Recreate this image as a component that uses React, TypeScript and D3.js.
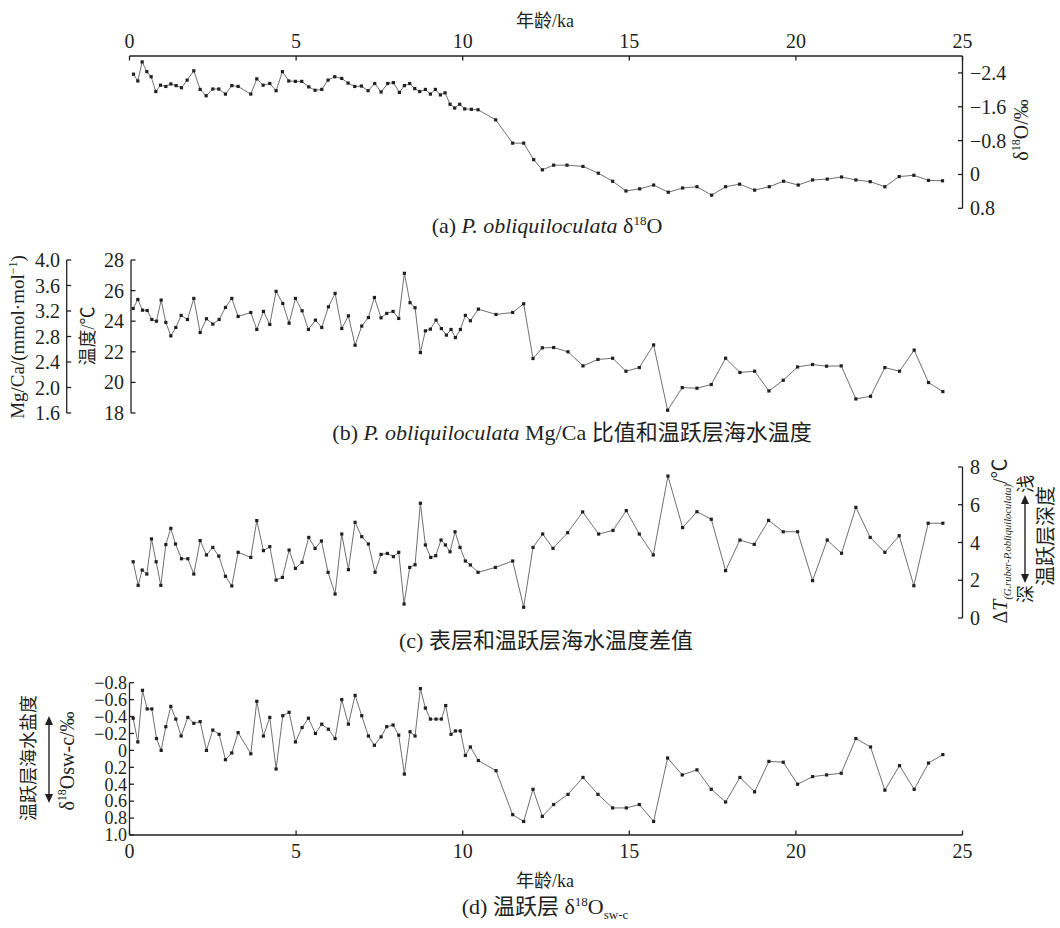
import React from 'react';
import * as d3 from 'd3';

// ---------- data ----------
const ageA = [0.12,0.25,0.38,0.52,0.65,0.79,0.93,1.09,1.24,1.40,1.56,1.73,1.93,2.12,2.30,2.50,2.68,2.88,3.07,3.26,3.64,3.82,4.01,4.21,4.40,4.59,4.78,4.98,5.17,5.38,5.57,5.77,5.96,6.16,6.37,6.56,6.76,6.96,7.16,7.36,7.55,7.75,7.92,8.10,8.25,8.41,8.56,8.71,8.88,9.03,9.18,9.33,9.47,9.62,9.76,9.91,10.06,10.26,10.46,10.99,11.50,11.83,12.13,12.39,12.73,13.13,13.61,14.07,14.50,14.90,15.31,15.73,16.17,16.60,17.03,17.47,17.89,18.31,18.76,19.20,19.63,20.07,20.50,20.94,21.37,21.80,22.23,22.67,23.10,23.54,23.98,24.40];
const d18O = [-2.37,-2.21,-2.66,-2.43,-2.31,-1.96,-2.11,-2.08,-2.14,-2.10,-2.05,-2.23,-2.45,-2.01,-1.86,-2.02,-2.02,-1.90,-2.10,-2.08,-1.90,-2.26,-2.11,-2.15,-1.98,-2.43,-2.21,-2.20,-2.20,-2.07,-1.99,-2.01,-2.23,-2.31,-2.27,-2.16,-2.08,-2.09,-1.98,-2.15,-1.95,-2.15,-2.17,-1.94,-2.10,-2.15,-2.03,-1.96,-2.01,-1.90,-2.01,-1.88,-1.93,-1.66,-1.57,-1.66,-1.55,-1.54,-1.53,-1.29,-0.74,-0.74,-0.35,-0.11,-0.22,-0.22,-0.19,-0.03,0.16,0.39,0.34,0.25,0.42,0.32,0.29,0.49,0.29,0.23,0.37,0.29,0.16,0.25,0.13,0.11,0.06,0.13,0.17,0.29,0.05,0.02,0.14,0.15];

const ageB = [0.11,0.25,0.39,0.53,0.67,0.81,0.95,1.09,1.24,1.39,1.55,1.74,1.93,2.12,2.31,2.50,2.69,2.88,3.07,3.26,3.64,3.82,4.02,4.21,4.40,4.60,4.79,4.98,5.18,5.37,5.58,5.77,5.97,6.17,6.37,6.57,6.77,6.97,7.17,7.35,7.55,7.72,7.91,8.08,8.25,8.42,8.57,8.73,8.88,9.03,9.20,9.36,9.51,9.65,9.78,9.93,10.08,10.23,10.47,11.00,11.50,11.83,12.11,12.39,12.73,13.16,13.61,14.06,14.50,14.90,15.30,15.73,16.15,16.59,17.03,17.46,17.89,18.32,18.76,19.19,19.62,20.05,20.50,20.92,21.36,21.80,22.24,22.67,23.11,23.55,23.98,24.41];
const tempB = [24.83,25.42,24.72,24.70,24.11,24.00,25.38,23.92,23.04,23.59,24.38,24.11,25.49,23.26,24.16,23.81,24.11,24.90,25.49,24.31,24.57,23.46,24.64,23.79,25.95,25.16,23.87,25.49,24.68,23.46,24.07,23.59,24.94,25.82,23.52,24.35,22.43,23.68,24.24,25.55,24.22,24.51,24.64,24.18,27.13,25.21,24.88,21.95,23.37,23.48,24.07,23.52,23.09,23.46,22.93,23.46,24.38,24.03,24.79,24.44,24.57,25.14,21.56,22.26,22.28,22.00,21.08,21.50,21.58,20.73,20.97,22.45,18.18,19.66,19.62,19.86,21.58,20.65,20.73,19.44,20.14,21.01,21.17,21.06,21.08,18.92,19.09,20.97,20.73,22.11,19.99,19.40];

const ageC = [0.11,0.26,0.38,0.52,0.66,0.80,0.94,1.09,1.24,1.38,1.56,1.75,1.93,2.12,2.31,2.50,2.68,2.88,3.07,3.26,3.64,3.82,4.02,4.21,4.40,4.59,4.79,4.98,5.18,5.38,5.57,5.76,5.96,6.17,6.37,6.57,6.77,6.97,7.17,7.37,7.55,7.74,7.92,8.08,8.24,8.41,8.57,8.73,8.88,9.04,9.19,9.35,9.48,9.62,9.77,9.92,10.08,10.23,10.46,10.98,11.50,11.83,12.11,12.40,12.71,13.15,13.60,14.08,14.51,14.91,15.30,15.72,16.16,16.60,17.03,17.46,17.89,18.32,18.75,19.18,19.62,20.05,20.50,20.94,21.37,21.80,22.23,22.67,23.10,23.54,23.97,24.41];
const deltaT = [2.98,1.73,2.54,2.33,4.19,2.98,1.73,3.89,4.75,3.92,3.14,3.14,2.33,4.10,3.34,3.74,3.28,2.21,1.70,3.48,3.21,5.16,3.57,3.78,2.01,2.15,3.60,2.63,2.95,4.27,3.69,4.08,2.42,1.27,4.45,2.56,5.07,4.31,3.92,2.42,3.37,3.42,3.25,3.48,0.74,2.68,2.82,6.08,3.87,3.21,3.30,4.13,3.87,3.51,4.57,3.74,3.02,2.81,2.42,2.68,3.02,0.57,3.74,4.45,3.69,4.52,5.62,4.45,4.64,5.69,4.45,3.34,7.52,4.79,5.63,5.23,2.51,4.13,3.90,5.17,4.57,4.57,1.98,4.13,3.43,5.86,4.27,3.48,4.36,1.71,5.02,5.02];

const ageD = [0.11,0.25,0.39,0.53,0.67,0.81,0.95,1.09,1.24,1.39,1.55,1.75,1.93,2.12,2.31,2.50,2.69,2.88,3.07,3.26,3.64,3.82,4.02,4.21,4.40,4.60,4.79,4.98,5.18,5.37,5.58,5.77,5.97,6.17,6.37,6.57,6.77,6.97,7.17,7.35,7.55,7.72,7.91,8.08,8.25,8.42,8.57,8.73,8.88,9.03,9.20,9.36,9.49,9.65,9.78,9.93,10.08,10.23,10.47,11.00,11.50,11.83,12.11,12.39,12.73,13.16,13.61,14.06,14.50,14.91,15.30,15.73,16.15,16.59,17.03,17.46,17.89,18.32,18.76,19.19,19.62,20.05,20.50,20.92,21.36,21.80,22.24,22.67,23.11,23.55,23.98,24.41];
const d18Osw = [-0.38,-0.10,-0.71,-0.49,-0.49,-0.14,0.00,-0.28,-0.52,-0.37,-0.17,-0.39,-0.32,-0.34,0.00,-0.24,-0.19,0.11,0.03,-0.21,0.04,-0.58,-0.17,-0.39,0.22,-0.41,-0.45,-0.10,-0.27,-0.38,-0.20,-0.31,-0.25,-0.14,-0.60,-0.31,-0.65,-0.41,-0.17,-0.06,-0.16,-0.28,-0.30,-0.18,0.28,-0.22,-0.17,-0.73,-0.50,-0.37,-0.37,-0.37,-0.53,-0.19,-0.23,-0.23,0.06,-0.04,0.12,0.24,0.76,0.84,0.46,0.78,0.64,0.52,0.32,0.52,0.68,0.68,0.64,0.84,0.09,0.29,0.23,0.46,0.61,0.32,0.49,0.13,0.14,0.40,0.31,0.29,0.27,-0.14,-0.04,0.47,0.18,0.46,0.15,0.05];

const ageTicks = [0, 5, 10, 15, 20, 25];
const aTicks = [-2.4, -1.6, -0.8, 0, 0.8];
const tempTicks = [18, 20, 22, 24, 26, 28];
const mgTicks = [1.6, 2.0, 2.4, 2.8, 3.2, 3.6, 4.0];
const dtTicks = [0, 2, 4, 6, 8];
const swTicks = [-0.8, -0.6, -0.4, -0.2, 0, 0.2, 0.4, 0.6, 0.8, 1.0];

// ---------- layout ----------
const FONT = '"Liberation Serif","Times New Roman","Noto Sans CJK SC",serif';
const INK = '#231f20';
const LINE = '#707070';
const TK = 4.5;

const x = d3.scaleLinear().domain([0, 25]).range([129.5, 962.5]);
const ya = d3.scaleLinear().domain([-2.8, 0.8]).range([56, 208.3]);
const yTemp = d3.scaleLinear().domain([18, 28]).range([413, 260]);
const yMg = d3.scaleLinear().domain([1.6, 4.0]).range([413, 260]);
const yc = d3.scaleLinear().domain([0, 8]).range([618, 467]);
const yd = d3.scaleLinear().domain([-0.8, 1.0]).range([682.7, 835]);

const fmt1 = (v: number) => (Math.abs(v) < 1e-9 ? '0' : (v < 0 ? '\u2212' : '') + Math.abs(v).toFixed(1));

function Series({ xs, ys, y }: { xs: number[]; ys: number[]; y: (v: number) => number }) {
  const n = Math.min(xs.length, ys.length);
  const pts: [number, number][] = [];
  for (let i = 0; i < n; i++) pts.push([x(xs[i]), y(ys[i])]);
  const d = d3.line()(pts) || '';
  return (
    <g>
      <path d={d} fill="none" stroke={LINE} strokeWidth={1} />
      {pts.map(([px, py], i) => (
        <rect key={i} x={px - 1.6} y={py - 1.6} width={3.2} height={3.2} fill={INK} />
      ))}
    </g>
  );
}

function VArrow({ cx, y1, y2 }: { cx: number; y1: number; y2: number }) {
  const h = 9, w = 4;
  return (
    <g fill={INK} stroke={INK}>
      <line x1={cx} x2={cx} y1={y1 + h} y2={y2 - h} strokeWidth={1.4} />
      <polygon points={`${cx},${y1} ${cx - w},${y1 + h} ${cx + w},${y1 + h}`} stroke="none" />
      <polygon points={`${cx},${y2} ${cx - w},${y2 - h} ${cx + w},${y2 - h}`} stroke="none" />
    </g>
  );
}

export default function App() {
  const axisStyle = { stroke: INK, strokeWidth: 1.3, fill: 'none' } as const;
  const xr = x(25);
  const xl = x(0);
  return (
    <div style={{ position: 'absolute', left: 0, top: 0 }}>
      <svg width={1060} height={928} viewBox="0 0 1060 928" style={{ display: 'block', background: '#fff' }} fontFamily={FONT} fill={INK}>
        {/* ---------- panel (a) ---------- */}
        <text x={545} y={27} fontSize={18} textAnchor="middle">年龄/ka</text>
        <line x1={xl} x2={xr} y1={56} y2={56} {...axisStyle} />
        {ageTicks.map((t) => (
          <g key={'ta' + t}>
            <line x1={x(t)} x2={x(t)} y1={56} y2={56 + TK} {...axisStyle} />
            <text x={x(t)} y={48} fontSize={20} textAnchor="middle">{t}</text>
          </g>
        ))}
        <line x1={xr} x2={xr} y1={56} y2={ya(0.8)} {...axisStyle} />
        {aTicks.map((t) => (
          <g key={'a' + t}>
            <line x1={xr - TK} x2={xr} y1={ya(t)} y2={ya(t)} {...axisStyle} />
            <text x={970} y={ya(t)} dy="0.35em" fontSize={20}>{fmt1(t)}</text>
          </g>
        ))}
        <text transform="translate(1028,130) rotate(-90)" fontSize={20} textAnchor="middle">
          δ<tspan fontSize={12} dy={-8}>18</tspan><tspan dy={8}>O/‰</tspan>
        </text>
        <Series xs={ageA} ys={d18O} y={ya} />
        <text x={547} y={233} fontSize={22} textAnchor="middle">
          (a) <tspan fontStyle="italic">P. obliquiloculata</tspan> δ<tspan fontSize={13} dy={-8}>18</tspan><tspan dy={8}>O</tspan>
        </text>

        {/* ---------- panel (b) ---------- */}
        <line x1={66.7} x2={66.7} y1={260} y2={413} {...axisStyle} />
        {mgTicks.map((t) => (
          <g key={'m' + t}>
            <line x1={66.7} x2={66.7 + TK} y1={yMg(t)} y2={yMg(t)} {...axisStyle} />
            <text x={60} y={yMg(t)} dy="0.35em" fontSize={20} textAnchor="end">{t.toFixed(1)}</text>
          </g>
        ))}
        <line x1={131} x2={131} y1={260} y2={413} {...axisStyle} />
        {tempTicks.map((t) => (
          <g key={'t' + t}>
            <line x1={131} x2={131 + TK} y1={yTemp(t)} y2={yTemp(t)} {...axisStyle} />
            <text x={124} y={yTemp(t)} dy="0.35em" fontSize={20} textAnchor="end">{t}</text>
          </g>
        ))}
        <text transform="translate(24,337) rotate(-90)" fontSize={19} textAnchor="middle">
          Mg/Ca/(mmol·mol<tspan fontSize={12} dy={-7}>−1</tspan><tspan dy={7}>)</tspan>
        </text>
        <text transform="translate(94,336) rotate(-90)" fontSize={18} textAnchor="middle">温度/℃</text>
        <Series xs={ageB} ys={tempB} y={yTemp} />
        <text x={572} y={440} fontSize={22} textAnchor="middle">
          (b) <tspan fontStyle="italic">P. obliquiloculata</tspan> Mg/Ca 比值和温跃层海水温度
        </text>

        {/* ---------- panel (c) ---------- */}
        <line x1={xr} x2={xr} y1={yc(8)} y2={yc(0)} {...axisStyle} />
        {dtTicks.map((t) => (
          <g key={'c' + t}>
            <line x1={xr - TK} x2={xr} y1={yc(t)} y2={yc(t)} {...axisStyle} />
            <text x={970} y={yc(t)} dy="0.35em" fontSize={20}>{t}</text>
          </g>
        ))}
        <text transform="translate(1007,541) rotate(-90)" fontSize={20} textAnchor="middle">
          Δ<tspan fontStyle="italic">T</tspan><tspan fontSize={10.5} fontStyle="italic" dy={4}>(G.ruber-P.obliquiloculata)</tspan><tspan dy={-4}>/℃</tspan>
        </text>
        <text transform="translate(1032,484) rotate(-90)" fontSize={18} textAnchor="middle">浅</text>
        <text transform="translate(1032,594) rotate(-90)" fontSize={18} textAnchor="middle">深</text>
        <VArrow cx={1025} y1={495} y2={583} />
        <text transform="translate(1053,536) rotate(-90)" fontSize={20} textAnchor="middle">温跃层深度</text>
        <Series xs={ageC} ys={deltaT} y={yc} />
        <text x={546} y={648} fontSize={22} textAnchor="middle">(c) 表层和温跃层海水温度差值</text>

        {/* ---------- panel (d) ---------- */}
        <line x1={xl} x2={xl} y1={yd(-0.8)} y2={yd(1.0)} {...axisStyle} />
        {swTicks.map((t) => (
          <g key={'d' + t}>
            <line x1={xl} x2={xl + TK} y1={yd(t)} y2={yd(t)} {...axisStyle} />
            <text x={127} y={yd(t)} dy="0.35em" fontSize={18} textAnchor="end">{fmt1(t)}</text>
          </g>
        ))}
        <line x1={xl} x2={xr} y1={yd(1.0)} y2={yd(1.0)} {...axisStyle} />
        {ageTicks.map((t) => (
          <g key={'bd' + t}>
            <line x1={x(t)} x2={x(t)} y1={yd(1.0)} y2={yd(1.0) - TK} {...axisStyle} />
            <text x={x(t)} y={858} fontSize={20} textAnchor="middle">{t}</text>
          </g>
        ))}
        <text x={545} y={887} fontSize={18} textAnchor="middle">年龄/ka</text>
        <text transform="translate(35,758) rotate(-90)" fontSize={18} textAnchor="middle">温跃层海水盐度</text>
        <VArrow cx={49} y1={716} y2={803} />
        <text transform="translate(74,761) rotate(-90)" fontSize={20} textAnchor="middle">
          δ<tspan fontSize={12} dy={-8}>18</tspan><tspan dy={8}>Osw-c/‰</tspan>
        </text>
        <Series xs={ageD} ys={d18Osw} y={yd} />
        <text x={545} y={914} fontSize={22} textAnchor="middle">
          (d) 温跃层 δ<tspan fontSize={13} dy={-8}>18</tspan><tspan dy={8}>O</tspan><tspan fontSize={13} dy={5}>sw-c</tspan>
        </text>
      </svg>
    </div>
  );
}
